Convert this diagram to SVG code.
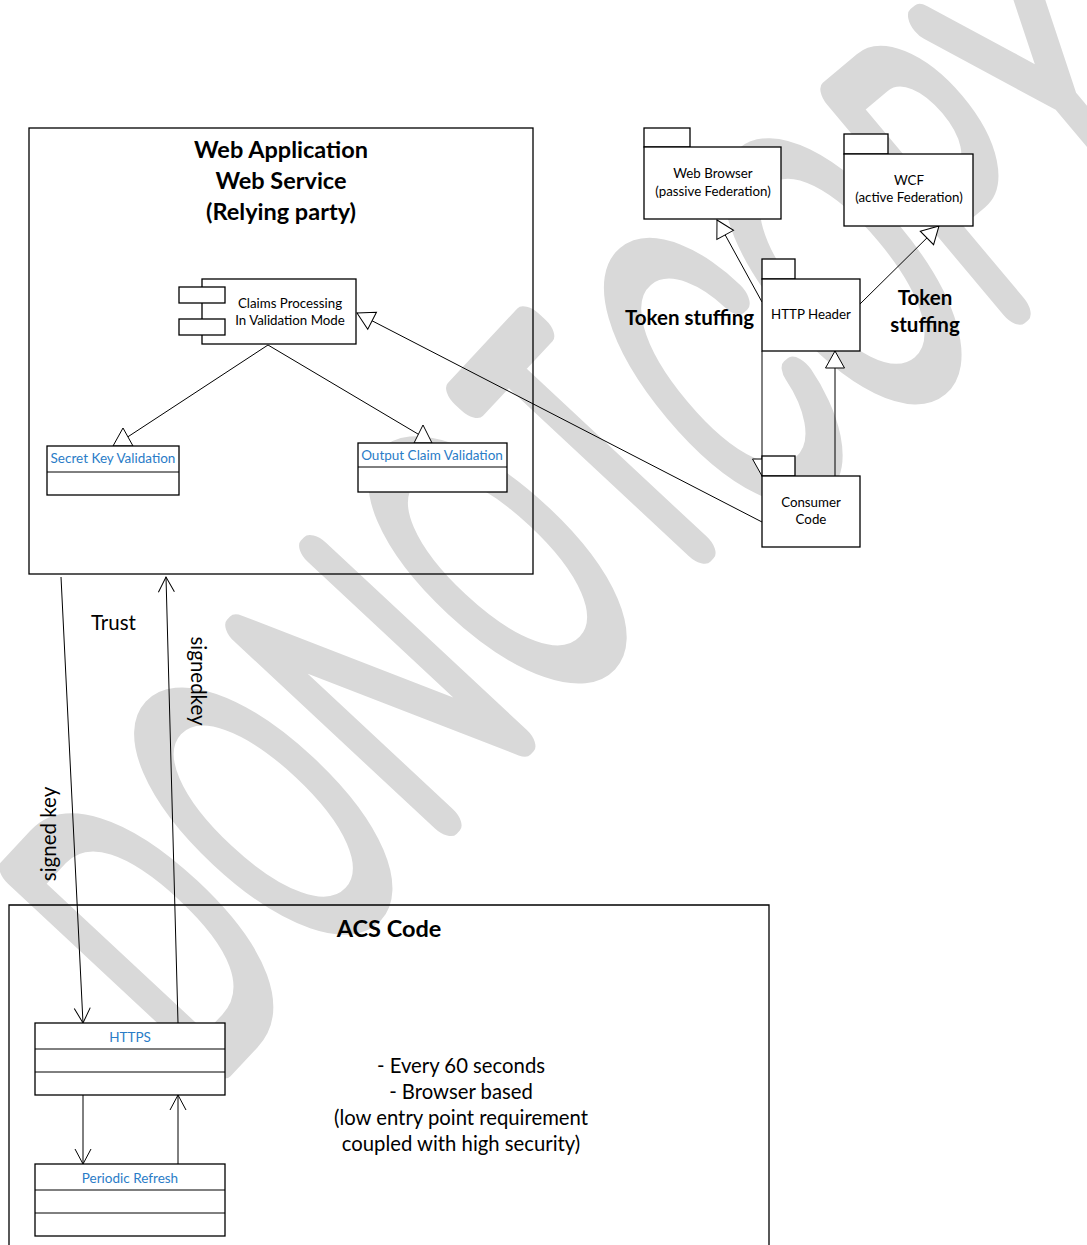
<svg xmlns="http://www.w3.org/2000/svg" width="1087" height="1245" viewBox="0 0 1087 1245">
<style>
text{font-family:Lato,"Open Sans","Liberation Sans",sans-serif;fill:#000}
.title{font-size:23.5px;font-weight:bold;text-anchor:middle}
.sm{font-size:13.3px;text-anchor:middle}
.blue{font-size:13.5px;text-anchor:middle;fill:#2a7cc7}
.lbl{font-size:20.5px}
.lblb{font-size:20.5px;font-weight:bold}
.note{font-size:20.3px;text-anchor:middle}
.box{fill:#fff;stroke:#000;stroke-width:1.3}
.frame{fill:none;stroke:#000;stroke-width:1.3}
.ln{fill:none;stroke:#000;stroke-width:1}
.tri{fill:#fff;stroke:#000;stroke-width:1}
.wm{font-family:Inter,Roboto,Lato,sans-serif;font-weight:100;font-size:377px;fill:none;stroke:#d9d9d9;stroke-width:32;stroke-linejoin:round;stroke-linecap:round}
</style>
<defs>
<marker id="hollow" viewBox="-19 -11 21 22" refX="0" refY="0" markerWidth="21" markerHeight="22" markerUnits="userSpaceOnUse" orient="auto">
<path d="M0,0 L-17,-9.5 L-17,9.5 Z" fill="#fff" stroke="#000" stroke-width="1"/>
</marker>
<marker id="open" viewBox="-17 -10 19 20" refX="0" refY="0" markerWidth="19" markerHeight="20" markerUnits="userSpaceOnUse" orient="auto">
<path d="M-15,-8 L0,0 L-15,8" fill="none" stroke="#000" stroke-width="1"/>
</marker>
</defs>
<rect width="1087" height="1245" fill="#fff"/>
<g id="watermark">
<text class="wm" transform="translate(200,1080) rotate(-47) scale(0.55,1)" letter-spacing="26" vector-effect="non-scaling-stroke">DONOT</text>
<text class="wm" transform="translate(752,526) rotate(-40) scale(0.55,1)" letter-spacing="10" vector-effect="non-scaling-stroke">COPY</text>
</g>
<g id="webapp">
<rect class="frame" x="29" y="128" width="504" height="446"/>
<text class="title" x="281" y="158">Web Application</text>
<text class="title" x="281" y="189">Web Service</text>
<text class="title" x="281" y="220">(Relying party)</text>
</g>
<g id="acs">
<path class="frame" d="M9,1250 V905 H769 V1250"/>
<text class="title" x="389" y="937">ACS Code</text>
<text class="note" x="461" y="1073">- Every 60 seconds</text>
<text class="note" x="461" y="1099">- Browser based</text>
<text class="note" x="461" y="1125">(low entry point requirement</text>
<text class="note" x="461" y="1151">coupled with high security)</text>
</g>
<g id="connectors">
<line class="ln" x1="268" y1="345" x2="123" y2="440"/>
<polygon class="tri" points="123,428 113,446 133,446"/>
<line class="ln" x1="268" y1="345" x2="423" y2="437"/>
<polygon class="tri" points="423,425 414,443 432,443"/>
<line class="ln" x1="762" y1="522" x2="357" y2="313" marker-end="url(#hollow)"/>
<line class="ln" x1="762" y1="302" x2="717" y2="220" marker-end="url(#hollow)"/>
<line class="ln" x1="860" y1="304" x2="939" y2="226" marker-end="url(#hollow)"/>
<line class="ln" x1="762" y1="351" x2="762" y2="476" marker-end="url(#hollow)"/>
<line class="ln" x1="835" y1="476" x2="835" y2="351" marker-end="url(#hollow)"/>
<line class="ln" x1="61" y1="577" x2="83" y2="1023" marker-end="url(#open)"/>
<line class="ln" x1="178" y1="1023" x2="166" y2="577" marker-end="url(#open)"/>
<line class="ln" x1="83" y1="1095" x2="83" y2="1164" marker-end="url(#open)"/>
<line class="ln" x1="178" y1="1164" x2="178" y2="1095" marker-end="url(#open)"/>
<text class="lbl" x="91" y="630">Trust</text>
<text class="lbl" transform="translate(191,681) rotate(90)" text-anchor="middle">signedkey</text>
<text class="lbl" transform="translate(56,834) rotate(-90)" text-anchor="middle">signed key</text>
<text class="lblb" x="625" y="325">Token stuffing</text>
<text class="lblb" x="925" y="305" text-anchor="middle">Token</text>
<text class="lblb" x="925" y="332" text-anchor="middle">stuffing</text>
</g>
<g id="claims">
<rect class="box" x="202" y="279" width="154" height="65"/>
<rect class="box" x="179" y="287" width="46" height="16"/>
<rect class="box" x="179" y="319" width="46" height="16"/>
<text class="sm" x="290" y="308">Claims Processing</text>
<text class="sm" x="290" y="325">In Validation Mode</text>
</g>
<g id="secretkey">
<rect class="box" x="47" y="446" width="132" height="49"/>
<line class="ln" x1="47" y1="472" x2="179" y2="472"/>
<text class="blue" x="113" y="463">Secret Key Validation</text>
</g>
<g id="outputclaim">
<rect class="box" x="358" y="443" width="149" height="49"/>
<line class="ln" x1="358" y1="467" x2="507" y2="467"/>
<text class="blue" x="432" y="460">Output Claim Validation</text>
</g>
<g id="webbrowser">
<rect class="box" x="644" y="128" width="46" height="19"/>
<rect class="box" x="644" y="147" width="137" height="72"/>
<text class="sm" x="713" y="178">Web Browser</text>
<text class="sm" x="713" y="196">(passive Federation)</text>
</g>
<g id="wcf">
<rect class="box" x="844" y="134" width="44" height="20"/>
<rect class="box" x="844" y="154" width="129" height="72"/>
<text class="sm" x="909" y="185">WCF</text>
<text class="sm" x="909" y="202">(active Federation)</text>
</g>
<g id="httpheader">
<rect class="box" x="762" y="259" width="33" height="20"/>
<rect class="box" x="762" y="279" width="98" height="72"/>
<text class="sm" x="811" y="319">HTTP Header</text>
</g>
<g id="consumer">
<rect class="box" x="762" y="456" width="33" height="20"/>
<rect class="box" x="762" y="476" width="98" height="71"/>
<text class="sm" x="811" y="507">Consumer</text>
<text class="sm" x="811" y="524">Code</text>
</g>
<g id="https">
<rect class="box" x="35" y="1023" width="190" height="72"/>
<line class="ln" x1="35" y1="1049" x2="225" y2="1049"/>
<line class="ln" x1="35" y1="1072" x2="225" y2="1072"/>
<text class="blue" x="130" y="1042">HTTPS</text>
</g>
<g id="refresh">
<rect class="box" x="35" y="1164" width="190" height="72"/>
<line class="ln" x1="35" y1="1190" x2="225" y2="1190"/>
<line class="ln" x1="35" y1="1213" x2="225" y2="1213"/>
<text class="blue" x="130" y="1183">Periodic Refresh</text>
</g>
</svg>
